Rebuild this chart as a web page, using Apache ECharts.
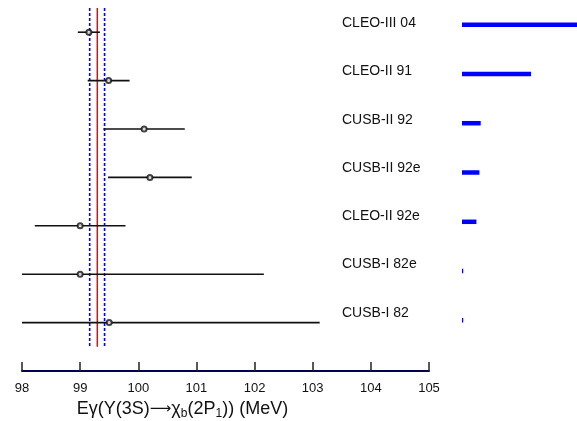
<!DOCTYPE html>
<html>
<head>
<meta charset="utf-8">
<script src="https://cdn.jsdelivr.net/npm/echarts@6/dist/echarts.min.js"></script>
<style>
html,body{margin:0;padding:0;background:#fff;}
#chart{width:577px;height:421px;}
</style>
</head>
<body>
<div id="chart"></div>
<script>
// ---- data ----
const experiments = ['CLEO-III 04', 'CLEO-II 91', 'CUSB-II 92', 'CUSB-II 92e', 'CLEO-II 92e', 'CUSB-I 82e', 'CUSB-I 82'];
const values = [99.15, 99.49, 100.10, 100.20, 99.00, 99.00, 99.50];
const errors = [0.19, 0.36, 0.70, 0.72, 0.78, 3.16, 3.62];
const weights = [116, 69, 18.7, 17.4, 14.4, 1.2, 1.2];
const average = 99.295;
const averageLow = 99.164;
const averageHigh = 99.42;
const xTicks = [98, 99, 100, 101, 102, 103, 104, 105];

const xMin = xTicks[0], xMax = xTicks[xTicks.length - 1];
const FONT = '"Liberation Sans", Arial, Helvetica, sans-serif';

const pointData = values.map((v, i) => [v, i, errors[i]]);
const vlineData = [[average, 0], [averageLow, 1], [averageHigh, 1]];

const chart = echarts.init(document.getElementById('chart'), null, {renderer: 'canvas'});
chart.setOption({
  animation: false,
  backgroundColor: '#fff',
  textStyle: {fontFamily: FONT},
  grid: [
    {left: 22, right: 148, top: 8, bottom: 50, containLabel: false, outerBoundsMode: 'none'},
    {left: 462, right: 0, top: 0, height: 345, containLabel: false, outerBoundsMode: 'none'},
    {left: 342, width: 1, top: -1, height: 338, containLabel: false, outerBoundsMode: 'none'}
  ],
  xAxis: [
    {
      gridIndex: 0, type: 'value', min: xMin, max: xMax, interval: 1, position: 'bottom',
      axisLine: {show: true, onZero: false, lineStyle: {color: '#000055', width: 2}},
      axisTick: {show: true, inside: true, length: 9, lineStyle: {color: '#222', width: 1.5}},
      axisLabel: {fontSize: 13, color: '#111', margin: 11, fontFamily: FONT},
      splitLine: {show: false},
      name: '{a|Eγ(Y(3S)}{r|⟶}{a|χ}{s|b}{a|(2P}{s|1}{a|)) (MeV)}',
      nameLocation: 'middle', nameGap: 22,
      nameTextStyle: {
        padding: [0, 86, 0, 0],
        rich: {
          a: {fontSize: 18, color: '#111', fontFamily: FONT, lineHeight: 22, verticalAlign: 'middle'},
          r: {fontSize: 15, color: '#111', fontFamily: '"DejaVu Sans", sans-serif', lineHeight: 22, verticalAlign: 'middle'},
          s: {fontSize: 12, color: '#111', fontFamily: FONT, lineHeight: 12, verticalAlign: 'bottom'}
        }
      }
    },
    {gridIndex: 1, type: 'value', min: 0, max: 115, show: false},
    {gridIndex: 2, type: 'value', min: 0, max: 1, show: false}
  ],
  yAxis: [
    {gridIndex: 0, type: 'value', inverse: true, min: -0.5, max: 7.0, show: false},
    {gridIndex: 1, type: 'category', inverse: true, data: experiments, show: false},
    {
      gridIndex: 2, type: 'category', inverse: true, data: experiments,
      axisLine: {show: false}, axisTick: {show: false},
      axisLabel: {show: true, align: 'left', margin: 0, fontSize: 14, color: '#111', fontFamily: FONT}
    }
  ],
  series: [
    {
      type: 'custom', xAxisIndex: 0, yAxisIndex: 0, z: 2,
      data: vlineData,
      encode: {x: 0, y: 1},
      renderItem: function (params, api) {
        const x = api.value(0);
        const kind = api.value(1);
        const p1 = api.coord([x, -0.5]);
        const p2 = api.coord([x, experiments.length - 0.5]);
        return {
          type: 'line',
          shape: {x1: p1[0], y1: p1[1], x2: p2[0], y2: p2[1]},
          style: kind === 0
            ? {stroke: '#ff0000', lineWidth: 1.5}
            : {stroke: '#0000ff', lineWidth: 1.6, lineDash: [3, 2]}
        };
      }
    },
    {
      type: 'custom', xAxisIndex: 0, yAxisIndex: 0, z: 3,
      data: pointData,
      encode: {x: 0, y: 1},
      renderItem: function (params, api) {
        const c = api.value(0), row = api.value(1), e = api.value(2);
        const lo = Math.max(c - e, xMin), hi = Math.min(c + e, xMax);
        const p1 = api.coord([lo, row]);
        const p2 = api.coord([hi, row]);
        return {
          type: 'line',
          shape: {x1: p1[0], y1: p1[1], x2: p2[0], y2: p2[1]},
          style: {stroke: '#111', lineWidth: 1.6}
        };
      }
    },
    {
      type: 'scatter', xAxisIndex: 0, yAxisIndex: 0, z: 4,
      data: pointData.map(d => [d[0], d[1]]),
      symbol: 'emptyCircle', symbolSize: 5,
      itemStyle: {color: '#111', borderColor: '#111', borderWidth: 1.5}
    },
    {
      type: 'bar', xAxisIndex: 1, yAxisIndex: 1,
      data: weights, barWidth: 4.5,
      itemStyle: {color: '#0000ff'}
    }
  ]
});
</script>
</body>
</html>
